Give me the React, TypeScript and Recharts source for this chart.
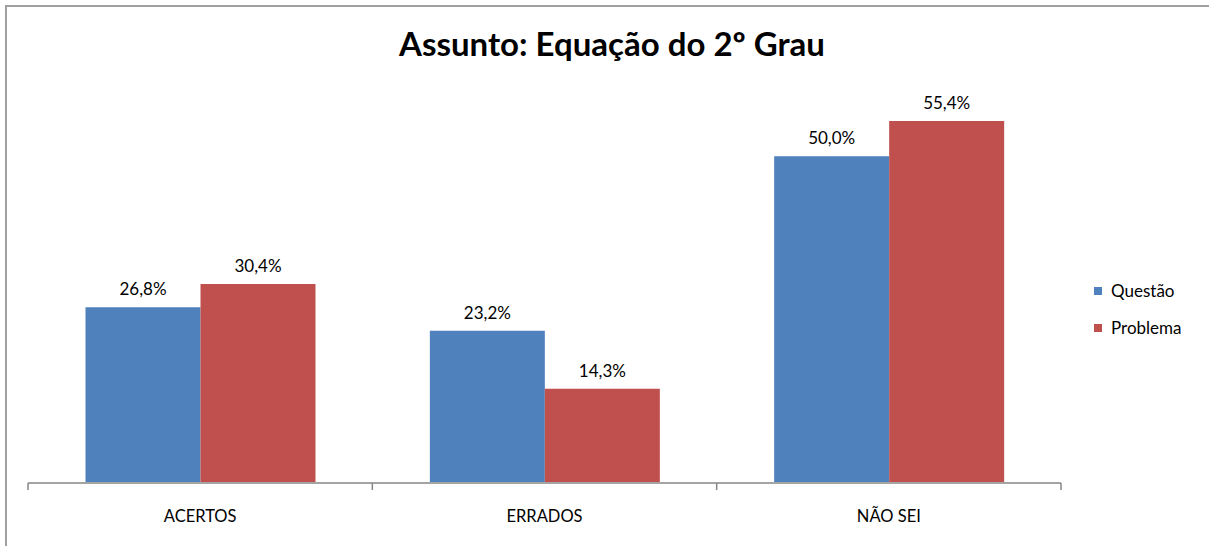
import React from "react";
import { BarChart, Bar, XAxis, YAxis, LabelList } from "recharts";

const categories = ["ACERTOS", "ERRADOS", "NÃO SEI"];
const questao = [26.8, 23.2, 50.0];
const problema = [30.4, 14.3, 55.4];
const seriesNames = ["Questão", "Problema"];
const seriesColors = ["#4F81BD", "#C0504D"];
const boundaryTicks = [0, 1, 2, 3];

const data = categories.map((c, i) => ({ name: c, q: questao[i], p: problema[i], idx: i + 0.5 }));

const fmt = (v: any) => Number(v).toFixed(1).replace(".", ",") + "%";
const FONT = "Lato, 'Open Sans', sans-serif";

const EmptyTick = () => <g />;

export default function App() {
  return (
    <div style={{ position: "absolute", left: 0, top: 0, width: 1209, height: 546, background: "#fff", overflow: "hidden" }}>
      <div
        style={{
          position: "absolute",
          left: 5,
          top: 5,
          width: 1204,
          height: 541,
          boxSizing: "border-box",
          borderLeft: "2px solid #a0a0a0",
          borderTop: "2px solid #a0a0a0",
        }}
      />
      <div
        style={{
          position: "absolute",
          left: 0,
          width: 1209,
          top: 24,
          textAlign: "center",
          fontFamily: FONT,
          fontWeight: 700,
          fontSize: 33,
          lineHeight: "38px",
          color: "#000",
          paddingLeft: 15,
          boxSizing: "border-box",
        }}
      >
        Assunto: Equação do 2º Grau
      </div>
      <div style={{ position: "absolute", left: 1094, top: 272, fontFamily: FONT, fontSize: 17, color: "#000" }}>
        {seriesNames.map((n, i) => (
          <div key={n} style={{ display: "flex", alignItems: "center", height: 37 }}>
            <div style={{ width: 8, height: 8, background: seriesColors[i], marginRight: 9 }} />
            <span>{n}</span>
          </div>
        ))}
      </div>
      <div style={{ position: "absolute", left: 0, top: 0 }}>
        <BarChart
          width={1209}
          height={546}
          data={data}
          margin={{ top: 91, right: 148, bottom: 62, left: 28 }}
          barCategoryGap="16.7%"
          barGap={0}
        >
          <XAxis
            dataKey="name"
            height={1}
            axisLine={false}
            tickLine={false}
            tickSize={0}
            tickMargin={28}
            tick={{ fill: "#000", fontFamily: FONT, fontSize: 16.5 }}
          />
          <XAxis
            xAxisId="b"
            type="number"
            dataKey="idx"
            domain={[0, 3]}
            allowDataOverflow
            ticks={boundaryTicks}
            height={1}
            tick={<EmptyTick />}
            tickSize={7}
            stroke="#868686"
            axisLine={{ stroke: "#868686", strokeWidth: 1.5 }}
            tickLine={{ stroke: "#868686", strokeWidth: 1.5 }}
          />
          <YAxis hide domain={[0, 60]} />
          <Bar dataKey="q" name={seriesNames[0]} fill={seriesColors[0]} isAnimationActive={false}>
            <LabelList dataKey="q" position="top" offset={12} formatter={fmt} style={{ fill: "#000", fontFamily: FONT, fontSize: 17 }} />
          </Bar>
          <Bar dataKey="p" name={seriesNames[1]} fill={seriesColors[1]} isAnimationActive={false}>
            <LabelList dataKey="p" position="top" offset={12} formatter={fmt} style={{ fill: "#000", fontFamily: FONT, fontSize: 17 }} />
          </Bar>
        </BarChart>
      </div>
    </div>
  );
}
